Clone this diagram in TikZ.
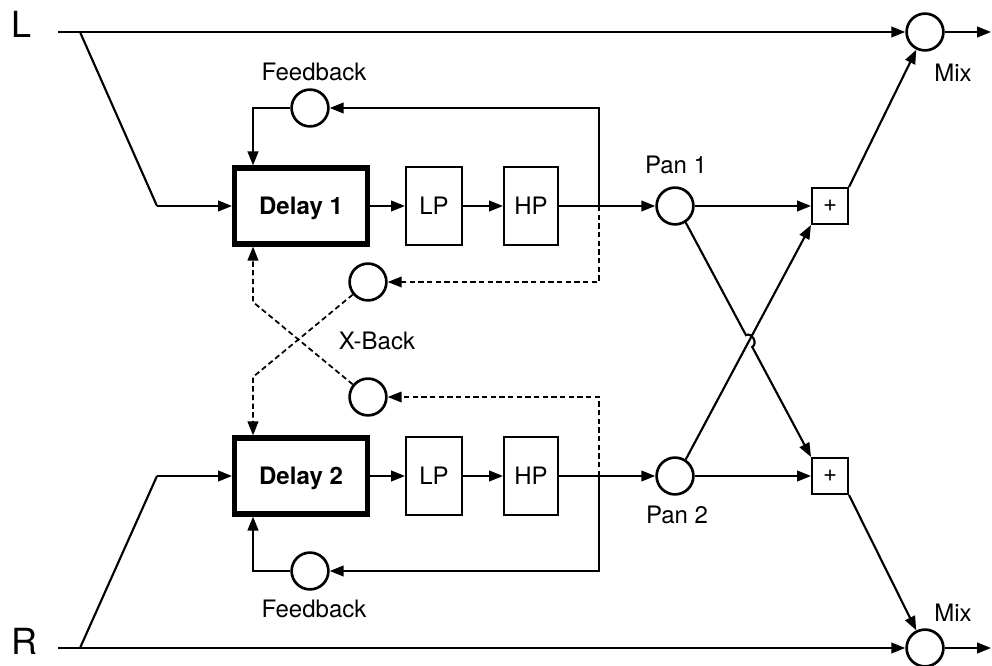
\documentclass[tikz,border=0pt]{standalone}
\usepackage{fontspec}
\setmainfont{TeX Gyre Heros}
\usetikzlibrary{arrows.meta,calc}
\begin{document}
\begin{tikzpicture}[x=0.75pt,y=-0.75pt,
  font=\fontsize{18}{20}\selectfont,
  ln/.style={line width=1.6pt},
  arr/.style={ln,-{Triangle[length=10.5pt,width=8pt]}},
  dsh/.style={line width=1.3pt,dash pattern=on 4pt off 2.5pt},
  darr/.style={dsh,-{Triangle[length=10.5pt,width=8pt]}},
  delaybox/.style={draw,line width=3.8pt,minimum width=99.7pt,minimum height=57pt,inner sep=0pt,font=\fontsize{18}{20}\selectfont\bfseries,text depth=0pt},
  fbox/.style={draw,line width=1.4pt,minimum height=58.6pt,inner sep=0pt,text depth=0pt},
  circ/.style={draw,circle,line width=2pt,minimum size=27.6pt,inner sep=0pt},
  plusbox/.style={draw,rectangle,line width=1.4pt,minimum size=27.1pt,inner sep=0pt},
  lab/.style={inner sep=0pt,text depth=0pt}
]
\useasboundingbox (0,0) rectangle (992,666);

% labels L / R
\node[lab,font=\fontsize{27}{30}\selectfont] (Llab) at (22,24) {L};
\node[lab,font=\fontsize{27}{30}\selectfont] (Rlab) at (24,641) {R};

% main boxes
\node[delaybox] (D1) at (301,206) {Delay 1};
\node[delaybox] (D2) at (301,476) {Delay 2};
\node[fbox,minimum width=42.1pt] (LP1) at (434,206) {LP};
\node[fbox,minimum width=40.6pt] (HP1) at (531,206) {HP};
\node[fbox,minimum width=42.1pt] (LP2) at (434,476) {LP};
\node[fbox,minimum width=40.6pt] (HP2) at (531,476) {HP};

% circles
\node[circ] (FB1) at (310,108) {};
\node[circ] (FB2) at (310,571) {};
\node[circ] (XB1) at (368,282) {};
\node[circ] (XB2) at (368,397) {};
\node[circ] (P1) at (675,206) {};
\node[circ] (P2) at (675,476) {};
\node[plusbox] (S1) at (830,206) {+};
\node[plusbox] (S2) at (830,476) {+};
\node[circ] (M1) at (925,32) {};
\node[circ] (M2) at (925,648) {};

% text labels
\node[lab] (tFB1) at (314,72) {Feedback};
\node[lab] (tFB2) at (314,609) {Feedback};
\node[lab] (tXB) at (377,341) {X-Back};
\node[lab] (tP1) at (676,165) {Pan 1};
\node[lab] (tP2) at (677,515) {Pan 2};
\node[lab] (tM1) at (953,73) {Mix};
\node[lab] (tM2) at (953,613) {Mix};

% coordinates
\coordinate (Lin) at (58,32);
\coordinate (Lbr) at (80,32);
\coordinate (Lcn) at (157,206);
\coordinate (Lout) at (991,32);
\coordinate (Rin) at (58,648);
\coordinate (Rbr) at (80,648);
\coordinate (Rcn) at (157,476);
\coordinate (Rout) at (991,648);
\coordinate (V1) at (599,108);
\coordinate (V1m) at (599,206);
\coordinate (V1d) at (599,282);
\coordinate (V2) at (599,571);
\coordinate (V2m) at (599,476);
\coordinate (V2d) at (599,397);
\coordinate (cA) at (253,377);
\coordinate (cB) at (253,302);

% inputs
\draw[arr] (Lin) -- (M1);
\draw[arr] (M1) -- (Lout);
\draw[ln] (Lbr) -- (Lcn);
\draw[arr] (Lcn) -- (D1);
\draw[arr] (Rin) -- (M2);
\draw[arr] (M2) -- (Rout);
\draw[ln] (Rbr) -- (Rcn);
\draw[arr] (Rcn) -- (D2);

% chains
\draw[arr] (D1) -- (LP1);
\draw[arr] (LP1) -- (HP1);
\draw[arr] (HP1) -- (P1);
\draw[arr] (D2) -- (LP2);
\draw[arr] (LP2) -- (HP2);
\draw[arr] (HP2) -- (P2);

% feedback
\draw[arr] (V1m) -- (V1) -- (FB1);
\draw[arr] (FB1.west) -| ([xshift=15.75pt]D1.north west);
\draw[arr] (V2m) -- (V2) -- (FB2);
\draw[arr] (FB2.west) -| ([xshift=15.75pt]D2.south west);

% cross feedback
\draw[darr] (V1m) -- (V1d) -- (XB1);
\draw[darr] (XB1) -- (cA) -- (cA |- D2.north);
\draw[darr] (V2m) -- (V2d) -- (XB2);
\draw[darr] (XB2) -- (cB) -- (cB |- D1.south);

% pan / sum
\draw[arr] (P1) -- (S1);
\draw[arr] (P2) -- (S2);
\coordinate (q1) at (P1.-57);
\coordinate (q2) at (S2.north west);
\coordinate (q3) at (P2.57);
\coordinate (q4) at (S1.south west);
\coordinate (X) at (intersection of q1--q2 and q3--q4);
\draw[arr] (q3) -- (q4);
\draw[arr] (q1) -- ($(X)!5pt!(q1)$) to[bend left=90,looseness=1.3] ($(X)!5pt!(q2)$) -- (q2);
\draw[arr] (S1.north east) -- (M1);
\draw[arr] (S2.south east) -- (M2);
\end{tikzpicture}
\end{document}
